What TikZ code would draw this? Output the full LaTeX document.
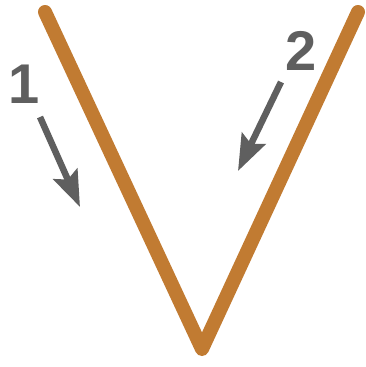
\documentclass[tikz,border=0pt]{standalone}
\usepackage{fontspec}
\setmainfont{Liberation Sans}
\usetikzlibrary{arrows.meta}
\definecolor{vbrown}{HTML}{C17B32}
\definecolor{hintgray}{HTML}{5F5F5F}
\tikzset{
  vstroke/.style={draw=vbrown, line width=14pt, line cap=round, line join=round},
  hintarrow/.style={draw=hintgray, fill=hintgray, line width=6.5pt, -{Stealth[length=36pt, width=26pt, inset=6pt]}},
  hintlabel/.style={text=hintgray, font=\bfseries\fontsize{56}{56}\selectfont, inner sep=0pt}
}
\begin{document}
\begin{tikzpicture}[x=1pt, y=-1pt]
    \useasboundingbox (0,0) rectangle (366,367);
    % the V
    \coordinate (top left) at (45,12);
    \coordinate (bottom) at (202,349);
    \coordinate (top right) at (358,12);
    \draw[vstroke] (top left) -- (bottom) -- (top right);
    % step 1
    \node[hintlabel] (one) at (24,84) {1};
    \coordinate (one start) at (40,117);
    \coordinate (one end) at (80,207);
    \draw[hintarrow] (one start) -- (one end);
    % step 2
    \node[hintlabel] (two) at (301,51) {2};
    \coordinate (two start) at (281,82);
    \coordinate (two end) at (238,171);
    \draw[hintarrow] (two start) -- (two end);
\end{tikzpicture}
\end{document}
